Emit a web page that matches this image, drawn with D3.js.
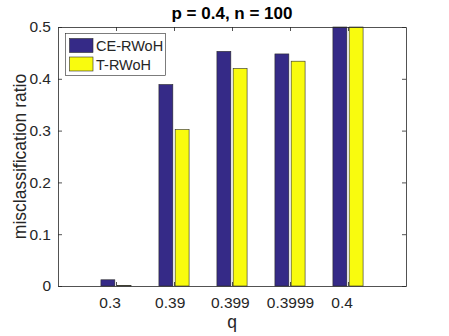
<!DOCTYPE html>
<html lang="en">
<meta charset="utf-8">
<head>
    <style>
        body { margin: 0; background: #fff; }
        text { font-family: "Liberation Sans", Arial, sans-serif; fill: #262626; }
    </style>
    <script src="https://d3js.org/d3.v7.min.js"></script>
</head>
<body>
</body>
<script>
    // data
    var categories = ["0.3", "0.39", "0.399", "0.3999", "0.4"];
    var seriesNames = ["CE-RWoH", "T-RWoH"];
    var ceValues = [0.012, 0.389, 0.453, 0.448, 0.5];
    var tValues = [0.001, 0.302, 0.420, 0.434, 0.5];
    var yTicks = [0, 0.1, 0.2, 0.3, 0.4, 0.5];
    var colors = ["#352a87", "#f9fb0e"];

    var width = 449, height = 336;
    var plotL = 58, plotR = 406, plotT = 27, plotB = 286;

    var svg = d3.select("body").append("svg")
        .attr("width", width)
        .attr("height", height);

    // x positions 1..5 inside xlim [0, 6]
    var x = d3.scaleLinear().domain([0, 6]).range([plotL, plotR]);
    var y = d3.scaleLinear().domain([0, 0.5]).range([plotB, plotT]);

    var barW = 0.24, offs = [-0.14, 0.14];
    var series = [ceValues, tValues];

    series.forEach(function (vals, s) {
        svg.append("g").selectAll("rect")
            .data(vals)
            .enter()
            .append("rect")
            .attr("x", function (d, i) { return x(i + 1 + offs[s] - barW / 2); })
            .attr("y", function (d) { return y(d); })
            .attr("width", x(barW) - x(0))
            .attr("height", function (d) { return y(0) - y(d); })
            .attr("fill", colors[s])
            .attr("stroke", "#2b2b2b")
            .attr("stroke-width", 0.6);
    });

    // axes (box with inward ticks, MATLAB style)
    var axisCol = "#262626";
    var xAxis = d3.axisBottom(x).tickValues([1, 2, 3, 4, 5])
        .tickSizeInner(-4).tickSizeOuter(0)
        .tickFormat(function (d) {
            // labels padded like a MATLAB char matrix
            var s = categories[d - 1];
            while (s.length < 6) s += " ";
            return s;
        });
    var gx = svg.append("g").attr("transform", "translate(0," + plotB + ")").call(xAxis);
    gx.selectAll("text").attr("dy", "0").attr("y", 22)
        .attr("xml:space", "preserve")
        .style("white-space", "pre")
        .style("font-size", "15.5px");

    var yAxis = d3.axisLeft(y).tickValues(yTicks)
        .tickSizeInner(-4).tickSizeOuter(0)
        .tickFormat(function (d) { return d === 0 ? "0" : d3.format(".1f")(d); });
    var gy = svg.append("g").attr("transform", "translate(" + plotL + ",0)").call(yAxis);
    gy.selectAll("text").attr("x", -7).style("font-size", "15.5px");

    var gxTop = svg.append("g").attr("transform", "translate(0," + plotT + ")")
        .call(d3.axisTop(x).tickValues([1, 2, 3, 4, 5]).tickSizeInner(-4).tickSizeOuter(0).tickFormat(""));
    var gyRight = svg.append("g").attr("transform", "translate(" + plotR + ",0)")
        .call(d3.axisRight(y).tickValues(yTicks).tickSizeInner(-4).tickSizeOuter(0).tickFormat(""));

    [gx, gy, gxTop, gyRight].forEach(function (g) {
        g.select(".domain").attr("stroke", axisCol).attr("stroke-width", 0.8);
        g.selectAll(".tick line").attr("stroke", axisCol).attr("stroke-width", 0.8);
        g.selectAll("text").attr("fill", axisCol).style("font-family", "Liberation Sans, Arial, sans-serif");
    });

    // title and labels
    svg.append("text")
        .attr("x", (plotL + plotR) / 2).attr("y", 19)
        .attr("text-anchor", "middle")
        .style("font-size", "17px").style("font-weight", "bold")
        .style("fill", "#000")
        .text("p = 0.4, n = 100");

    svg.append("text")
        .attr("x", (plotL + plotR) / 2).attr("y", 328)
        .attr("text-anchor", "middle")
        .style("font-size", "17.5px")
        .text("q");

    svg.append("text")
        .attr("transform", "translate(26," + (plotT + plotB) / 2 + ") rotate(-90)")
        .attr("text-anchor", "middle")
        .style("font-size", "17.5px")
        .text("misclassification ratio");

    // legend
    var lg = svg.append("g");
    lg.append("rect")
        .attr("x", 65.5).attr("y", 33.5).attr("width", 100).attr("height", 42)
        .attr("fill", "#fff").attr("stroke", axisCol).attr("stroke-width", 0.6);
    seriesNames.forEach(function (name, i) {
        lg.append("rect")
            .attr("x", 69.5).attr("y", 38.5 + i * 18.5)
            .attr("width", 23.5).attr("height", 14)
            .attr("fill", colors[i]).attr("stroke", "#2b2b2b").attr("stroke-width", 0.6);
        lg.append("text")
            .attr("x", 96).attr("y", 51 + i * 18.5)
            .style("font-size", "14.5px")
            .text(name);
    });
</script>
</html>
